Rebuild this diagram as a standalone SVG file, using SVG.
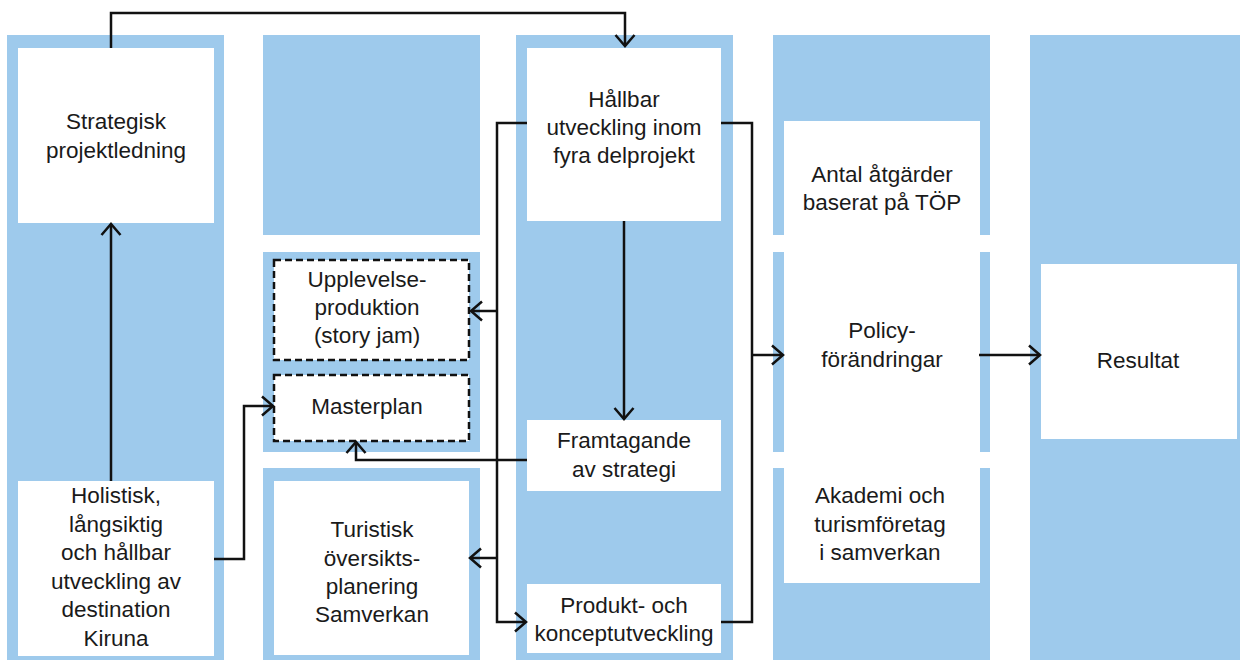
<svg xmlns="http://www.w3.org/2000/svg" width="1240" height="662" viewBox="0 0 1240 662">
  <style>
    .band { fill: #9ecaec; }
    .box { fill: #ffffff; }
    .dash { fill: #ffffff; stroke: #111111; stroke-width: 2.5; stroke-dasharray: 7 4; }
    .lbl { font-family: "Liberation Sans", Arial, sans-serif; font-size: 22.5px; fill: #1a1a1a; text-anchor: middle; }
    .wire { fill: none; stroke: #111111; stroke-width: 2.5; stroke-linejoin: miter; }
  </style>
  <defs>
    <marker id="head" markerUnits="userSpaceOnUse" markerWidth="26" markerHeight="26" viewBox="-14 -13 16 26" refX="0" refY="0" orient="auto">
      <path d="M-11,-9.5 L0,0 L-11,9.5" fill="none" stroke="#111111" stroke-width="2.5"/>
    </marker>
  </defs>

  <!-- background bands -->
  <g id="bands">
    <rect class="band" x="7" y="35" width="217" height="625"/>
    <rect class="band" x="263" y="35" width="217" height="200"/>
    <rect class="band" x="263" y="252" width="217" height="200"/>
    <rect class="band" x="263" y="468" width="217" height="192"/>
    <rect class="band" x="516" y="35" width="217" height="625"/>
    <rect class="band" x="773" y="35" width="217" height="200"/>
    <rect class="band" x="773" y="252" width="217" height="200"/>
    <rect class="band" x="773" y="468" width="217" height="192"/>
    <rect class="band" x="1030" y="35" width="210" height="625"/>
  </g>

  <g id="strategisk">
    <rect class="box" x="18" y="48" width="196" height="175"/>
    <text class="lbl" x="116" y="129">Strategisk</text>
    <text class="lbl" x="116" y="158">projektledning</text>
  </g>

  <g id="holistisk">
    <rect class="box" x="18" y="481" width="196" height="175"/>
    <text class="lbl" x="116" y="503">Holistisk,</text>
    <text class="lbl" x="116" y="532">långsiktig</text>
    <text class="lbl" x="116" y="560">och hållbar</text>
    <text class="lbl" x="116" y="589">utveckling av</text>
    <text class="lbl" x="116" y="617">destination</text>
    <text class="lbl" x="116" y="646">Kiruna</text>
  </g>

  <g id="upplevelse">
    <rect class="dash" x="274" y="260" width="195" height="100"/>
    <text class="lbl" x="367" y="287">Upplevelse-</text>
    <text class="lbl" x="367" y="315">produktion</text>
    <text class="lbl" x="367" y="343">(story jam)</text>
  </g>

  <g id="masterplan">
    <rect class="dash" x="274" y="375" width="195" height="66"/>
    <text class="lbl" x="367" y="414">Masterplan</text>
  </g>

  <g id="turistisk">
    <rect class="box" x="274" y="481" width="195" height="174"/>
    <text class="lbl" x="372" y="537">Turistisk</text>
    <text class="lbl" x="372" y="566">översikts-</text>
    <text class="lbl" x="372" y="594">planering</text>
    <text class="lbl" x="372" y="622">Samverkan</text>
  </g>

  <g id="hallbar">
    <rect class="box" x="527" y="48" width="194" height="173"/>
    <text class="lbl" x="624" y="107">Hållbar</text>
    <text class="lbl" x="624" y="135">utveckling inom</text>
    <text class="lbl" x="624" y="163">fyra delprojekt</text>
  </g>

  <g id="framtagande">
    <rect class="box" x="527" y="420" width="194" height="71"/>
    <text class="lbl" x="624" y="448">Framtagande</text>
    <text class="lbl" x="624" y="477">av strategi</text>
  </g>

  <g id="produkt">
    <rect class="box" x="527" y="584" width="194" height="69"/>
    <text class="lbl" x="624" y="613">Produkt- och</text>
    <text class="lbl" x="624" y="641">konceptutveckling</text>
  </g>

  <g id="antal">
    <rect class="box" x="784" y="121" width="196" height="114"/>
    <text class="lbl" x="882" y="182">Antal åtgärder</text>
    <text class="lbl" x="882" y="210">baserat på TÖP</text>
  </g>

  <g id="policy">
    <rect class="box" x="784" y="252" width="196" height="200"/>
    <text class="lbl" x="882" y="338">Policy-</text>
    <text class="lbl" x="882" y="367">förändringar</text>
  </g>

  <g id="akademi">
    <rect class="box" x="784" y="468" width="196" height="115"/>
    <text class="lbl" x="880" y="503">Akademi och</text>
    <text class="lbl" x="880" y="532">turismföretag</text>
    <text class="lbl" x="880" y="560">i samverkan</text>
  </g>

  <g id="resultat">
    <rect class="box" x="1041" y="264" width="196" height="175"/>
    <text class="lbl" x="1138" y="368">Resultat</text>
  </g>

  <g id="connectors">
    <path class="wire" d="M111,48 V13 H625 V46" marker-end="url(#head)"/>
    <path class="wire" d="M111,481 V224" marker-end="url(#head)"/>
    <path class="wire" d="M214,559 H244 V406 H273" marker-end="url(#head)"/>
    <path class="wire" d="M527,123 H497 V622 H526" marker-end="url(#head)"/>
    <path class="wire" d="M497,311 H471" marker-end="url(#head)"/>
    <path class="wire" d="M497,558 H470" marker-end="url(#head)"/>
    <path class="wire" d="M624,221 V419" marker-end="url(#head)"/>
    <path class="wire" d="M527,460 H356 V442" marker-end="url(#head)"/>
    <path class="wire" d="M721,123 H752 V622 H721"/>
    <path class="wire" d="M752,355 H783" marker-end="url(#head)"/>
    <path class="wire" d="M979,355 H1040" marker-end="url(#head)"/>
  </g>
</svg>
